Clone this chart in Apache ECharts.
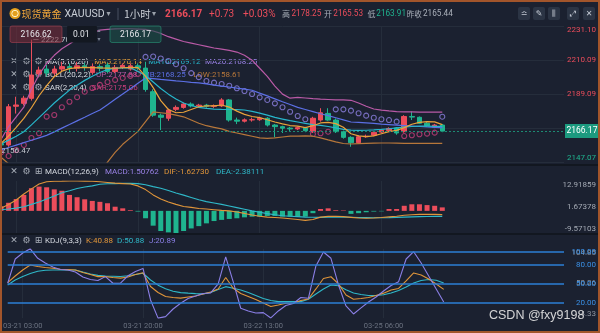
<!DOCTYPE html>
<html><head><meta charset="utf-8">
<script src="https://cdn.jsdelivr.net/npm/echarts@6/dist/echarts.min.js"></script>
<style>html,body{margin:0;padding:0;background:#1b2130;}#c{width:600px;height:333px;}</style>
</head><body><div id="c"></div><script>
// trading sessions (Beijing time), one candle per hour
const sessions = [['03-21',1,4],['03-21',6,23],['03-22',0,4],['03-22',6,23],['03-23',0,4],['03-25',6,14]];
const times = [];
sessions.forEach(([d,a,b]) => { for (let h = a; h <= b; h++) times.push(d + ' ' + String(h).padStart(2,'0') + ':00'); });
const lastIdx = times.length - 1;
for (let h = 15; times.length < 75; h++) times.push('03-25 ' + String(h % 24).padStart(2,'0') + ':00');

// [open, close, low, high]
const candles = [
[2158.3,2157.6,2156.9,2159.2],[2157.6,2181.2,2156.47,2182.9],[2181.5,2182.3,2177.0,2187.4],[2183.3,2186.5,2182.0,2188.0],
[2186.4,2200.8,2185.0,2222.70],[2201.5,2203.9,2199.5,2206.0],[2204.5,2202.0,2200.0,2207.0],[2202.0,2204.5,2200.5,2206.5],
[2204.5,2206.0,2203.0,2209.0],[2206.0,2205.0,2202.5,2208.0],[2205.0,2206.5,2203.0,2209.0],[2206.5,2205.5,2203.5,2208.5],
[2202.3,2206.0,2201.0,2208.0],[2206.0,2205.0,2203.0,2207.5],[2207.0,2203.0,2202.0,2208.5],[2203.0,2205.5,2202.0,2207.0],
[2205.5,2206.8,2204.5,2208.0],[2204.5,2206.5,2203.5,2208.0],[2206.5,2205.1,2204.0,2208.0],[2205.1,2191.9,2190.5,2209.0],
[2190.5,2176.0,2175.0,2192.0],[2176.0,2174.7,2166.8,2177.0],[2174.1,2179.2,2172.5,2180.0],[2179.6,2180.8,2178.5,2182.0],
[2180.8,2182.9,2180.0,2183.8],[2182.9,2181.7,2180.8,2183.9],[2181.7,2182.2,2181.0,2183.0],[2182.2,2181.5,2180.6,2183.0],
[2181.5,2181.8,2180.5,2182.6],[2181.7,2185.4,2181.0,2186.5],[2185.4,2173.0,2172.0,2186.0],[2173.0,2172.3,2170.5,2174.5],
[2172.3,2173.1,2171.5,2174.0],[2173.1,2173.2,2172.0,2174.5],[2173.2,2174.1,2172.5,2175.0],[2174.1,2169.9,2169.0,2174.8],
[2169.9,2168.9,2162.3,2170.5],[2168.9,2168.0,2165.0,2169.5],[2168.0,2167.5,2166.2,2168.8],[2167.5,2168.3,2166.8,2169.0],
[2168.1,2166.4,2165.5,2168.8],[2165.8,2174.1,2165.0,2175.0],[2173.0,2177.5,2172.0,2180.3],[2177.1,2173.0,2172.5,2180.3],
[2173.0,2165.8,2165.0,2174.0],[2165.8,2162.3,2161.5,2166.5],[2162.3,2159.0,2156.5,2163.0],[2159.0,2162.7,2158.5,2163.5],
[2162.7,2163.0,2162.0,2164.0],[2163.6,2165.44,2163.0,2165.8],[2165.53,2166.8,2165.0,2167.5],[2166.5,2167.8,2166.0,2168.5],
[2168.1,2165.0,2163.91,2168.6],[2165.8,2175.2,2165.2,2176.0],[2175.2,2174.8,2173.0,2178.25],[2174.7,2171.0,2170.5,2175.2],
[2171.0,2169.5,2169.0,2171.8],[2168.6,2169.9,2168.0,2170.6],[2169.9,2166.17,2165.5,2170.5]
];
const ma5 = [2158.5,2163.2,2168.5,2174.0,2180.6,2188.0,2194.2,2199.8,2203.2,2204.8,2205.4,2205.5,2205.4,2205.2,2205.1,2205.0,2205.3,2205.5,2205.4,2200.0,2193.0,2185.0,2179.5,2177.5,2177.8,2179.5,2181.2,2181.8,2181.7,2182.3,2181.0,2178.5,2176.5,2175.2,2174.5,2173.2,2171.8,2170.6,2169.6,2169.2,2168.3,2169.5,2171.2,2171.6,2170.8,2168.5,2164.5,2163.2,2162.8,2163.2,2164.5,2165.8,2166.6,2168.3,2170.4,2171.6,2172.0,2171.9,2170.14];
const ma10 = [2158.2,2160.6,2163.0,2165.8,2170.0,2174.5,2179.0,2183.5,2187.5,2191.5,2194.5,2197.5,2200.0,2202.4,2204.2,2205.0,2205.2,2205.4,2203.0,2200.5,2196.5,2192.5,2189.0,2186.0,2183.5,2182.0,2180.8,2180.2,2179.8,2179.6,2179.5,2179.4,2179.2,2178.4,2177.3,2176.0,2174.6,2173.6,2172.6,2171.8,2170.9,2170.2,2169.7,2169.0,2168.2,2167.2,2166.8,2166.6,2166.7,2166.9,2167.2,2167.6,2168.1,2168.6,2169.0,2169.2,2169.2,2169.1,2169.12];
const ma20 = [2154.5,2156.0,2157.5,2159.0,2160.5,2162.0,2163.5,2165.7,2168.0,2170.2,2172.5,2174.7,2177.0,2179.2,2182.5,2185.8,2189.1,2192.4,2195.7,2199.0,2198.6,2198.1,2197.7,2197.2,2196.8,2196.3,2195.9,2195.3,2194.6,2194.0,2193.4,2192.7,2192.1,2191.4,2189.6,2187.9,2186.1,2184.3,2182.6,2180.8,2179.5,2178.2,2176.9,2175.7,2174.4,2173.1,2171.8,2171.5,2171.2,2170.9,2170.5,2170.2,2169.9,2169.6,2169.3,2169.0,2168.7,2168.5,2168.25];
const bollUp = [2161,2169,2175,2181,2192,2201,2208,2213,2217,2220,2223,2225,2227,2228.5,2229,2229.3,2229.4,2229.4,2229.2,2229,2228,2226.5,2224.5,2223,2221.5,2220.5,2219.5,2218.5,2217.5,2216.8,2216,2215,2213,2210,2205,2200,2194,2189,2186.5,2187,2186.6,2186.2,2185.9,2185.7,2185.5,2185.4,2185.2,2183.5,2181.5,2179.8,2179.1,2178.6,2178.2,2178.1,2178.0,2177.9,2177.9,2177.9,2177.88];
const bollLow = [2150,2146,2142,2138,2130,2125,2121,2120,2120,2121,2123,2127,2132,2140,2147,2153,2158,2162,2166,2172,2178,2177.5,2177,2176,2175,2173,2171,2169.5,2168.5,2167.5,2166,2165,2164,2163,2162,2161.7,2162,2162.5,2163,2163,2163.2,2163,2162,2160.7,2159.5,2158.5,2158.2,2158.4,2158.6,2158.7,2158.8,2158.8,2158.7,2158.6,2158.6,2158.6,2158.6,2158.6,2158.61];
const sar = [2153,2150.8,2154.5,2157.6,2161.9,2164.8,2175.1,2176.1,2180.9,2184.3,2187.1,2190.5,2192.8,2194.7,2196.5,2197.8,2199.0,2200.3,2201.5,2212.0,2212.3,2211,2209.5,2207.5,2205,2202,2199.5,2197.1,2196.1,2195.3,2194.2,2192.6,2190.9,2189.1,2187.0,2185.4,2183.3,2180.9,2178.1,2175.5,2173.5,2164.4,2164.8,2165.8,2179.6,2179.6,2178.8,2177.2,2175.7,2174.4,2173.5,2173.0,2172.0,2163.1,2163.6,2164.2,2164.6,2165.2,2175.06];

const macd = [2.0,3.5,5.1,6.9,9.8,10.5,10.2,9.3,8.7,6.9,5.9,5.0,4.3,3.9,3.3,1.8,1.1,0.3,-0.3,-3.2,-6.4,-8.7,-9.3,-9.57103,-8.7,-7.6,-6.6,-5.4,-4.4,-3.9,-3.5,-3.2,-2.8,-2.5,-2.5,-2.2,-2.2,-2.5,-2.5,-2.5,-2.5,-1.0,0.8,1.1,0.3,0.2,-1.3,-1.0,-0.6,-0.3,-0.2,0.8,0.8,2.2,2.85,2.85,2.5,2.2,1.50762];
const dif = [1.1,2.76,4.7,7.3,9.5,11.6,12.6,12.8,12.85,12.91859,12.9,12.88,12.8,12.6,12.3,12.0,11.8,11.6,10.8,9.2,6.9,5.1,3.8,2.8,1.9,1.5,1.0,0.8,0.5,0.2,0,-0.5,-1.1,-1.8,-2.3,-2.7,-2.9,-3.1,-3.4,-3.7,-4.1,-3.7,-2.7,-2.4,-2.3,-2.5,-2.8,-3.1,-3.2,-3.1,-2.9,-2.6,-2.3,-1.9,-1.7,-1.5,-1.45,-1.5,-1.6273];
const dea = [0.5,0.8,1.2,1.8,2.8,3.8,5.1,6.4,7.8,8.7,9.7,10.3,10.8,11.5,11.7,11.8,11.9,11.9,11.8,11.3,10.5,9.8,8.8,7.7,6.8,5.8,4.8,4.0,3.4,2.8,2.1,1.4,0.7,0,-0.6,-1.2,-1.7,-2.1,-2.3,-2.5,-2.7,-2.75,-2.8,-2.75,-2.7,-2.7,-2.75,-2.85,-2.9,-2.95,-2.95,-2.9,-2.8,-2.7,-2.6,-2.5,-2.45,-2.4,-2.38111];

const kdjK = [51.5,62,71.5,79.4,77,75.4,74.2,72.6,72.1,71.5,67.6,64.4,61,61,59.7,58.6,60.5,64.4,67.2,45.5,36,29.8,28.2,27.1,29,30.6,33.7,36.9,41.6,59.7,42.7,34.5,29.8,25,19.5,14,16.4,19.1,19.5,23.5,25.8,41.6,58.1,60.8,49.5,32.1,25.4,26.5,28.2,31.3,35,40,42.4,54.2,66.8,63.6,57.3,49.5,40.88];
const kdjD = [47.9,55.7,61.3,66,69.5,71,71.5,71.5,71.5,71.5,68.3,65.2,63,62,61.6,61.1,62.4,64.4,66.3,55.7,47.6,42,38.1,35.8,35,34.3,33.9,35.9,40.6,45.2,42.7,40,36,31.3,26.6,23.5,21.6,21.6,21.6,21.6,25.4,33.7,41.6,47.9,46.6,40.3,35.3,32.9,31.3,31.2,32.4,35.3,39.2,44.7,51,55,56.5,55.3,50.88];
const kdjJ = [50.6,88.8,98.3,104.85,89.9,82.5,76.2,72.3,71.5,68.3,60.5,56.5,55,61,50.6,50.6,62.4,69.1,73.9,24.3,-4.33,-2,10,19,26.6,30.5,34.5,35.3,49.5,92,52.6,11.2,7,3.8,4.3,-4.1,6.9,15.6,18.7,28.2,26.9,77.8,99.8,89.9,47.9,14.8,2.2,11.7,21.1,29,38.4,47.1,53.1,88.8,100.3,82.5,62,41.6,20.89];
const kdjLevels = [100, 80, 50, 20];

const prevClose = 2165.44, dayOpen = 2165.53, dayHigh = 2178.25, dayLow = 2163.91;
const bidPrice = 2166.62, lotSize = 0.01;

const RED = '#ec4d5b', GREEN = '#1fb48f', GRID = '#252d3b';
const C_MA5 = '#e9a23b', C_MA10 = '#27b6cb', C_MA20 = '#9a82e6', C_UP = '#b95aa6', C_MB = '#5b6fe4', C_LOW = '#b7773a';
const C_SAR_UP = '#c83e7c', C_SAR_DN = '#8c7fe0';
const C_K = '#e0953a', C_D = '#2fb8c8', C_J = '#8b7fe6', C_LEVEL = '#2c7fd6';
const NUM = 'Roboto, "Noto Sans", sans-serif';
const CJK = '"Noto Sans CJK SC", "Noto Sans", sans-serif';

const last = candles.length - 1;
const lastClose = candles[last][1];
const fmt = (v, d) => Number(v).toFixed(d);
const hiIdx = candles.reduce((b, c, i) => c[3] > candles[b][3] ? i : b, 0);
const loIdx = candles.reduce((b, c, i) => c[2] < candles[b][2] ? i : b, 0);

const chart = echarts.init(document.getElementById('c'), null, {renderer: 'canvas'});
const showTime = (i) => i <= lastIdx && i % 16 === 2;
const xBase = (gi, showLabel) => ({
  type: 'category', gridIndex: gi, data: times, boundaryGap: false,
  axisLine: {show: false}, axisTick: {show: false},
  axisLabel: {show: showLabel, interval: showTime, color: '#6b7280', fontSize: 7.5, fontFamily: NUM, margin: 4},
  splitLine: {show: true, interval: showTime, lineStyle: {color: GRID, width: 1}}
});

const legendRow = (y, icons, parts) => {
  const els = [];
  els.push({type: 'text', x: 14, y: y, style: {text: '✕', fill: '#a8aeb8', font: '9px "DejaVu Sans"', align: 'center', verticalAlign: 'middle'}});
  icons.forEach((g, k) => els.push({type: 'text', x: [26.5, 38.5][k], y: y, style: {text: g, fill: '#a8aeb8', font: '9px "DejaVu Sans"', align: 'center', verticalAlign: 'middle'}}));
  parts.forEach(p => els.push({type: 'text', x: p[0], y: y, style: {text: p[1], fill: p[2], font: '8px ' + NUM, verticalAlign: 'middle'}}));
  return els;
};

const hdr = (x, text, fill, font) => ({type: 'text', x: x, y: 14, style: {text: text, fill: fill, font: font, verticalAlign: 'middle'}});
const iconBox = (x, glyph) => ([
  {type: 'rect', shape: {x: x, y: 7, width: 12, height: 13, r: 2}, style: {fill: '#2b3444'}},
  {type: 'text', x: x + 6, y: 13.5, style: {text: glyph, fill: '#c4cad4', font: '8px "DejaVu Sans"', align: 'center', verticalAlign: 'middle'}}
]);

const graphics = [].concat(
  [
    {type: 'rect', shape: {x: 0, y: 164, width: 600, height: 2}, style: {fill: '#121720'}, z: 5},
    {type: 'rect', shape: {x: 0, y: 233, width: 600, height: 2}, style: {fill: '#121720'}, z: 5},
    {type: 'circle', shape: {cx: 15, cy: 13.5, r: 5.5}, style: {fill: '#e3a01e'}},
    {type: 'circle', shape: {cx: 15, cy: 13.5, r: 3.2}, style: {fill: 'none', stroke: '#fff3c8', lineWidth: 1}},
    hdr(21.5, '现货黄金', '#f0a63a', '10px ' + CJK),
    hdr(64.5, 'XAUUSD', '#c9ced6', '10.5px ' + NUM),
    hdr(106.5, '▾', '#9aa0aa', '8px "DejaVu Sans"'),
    {type: 'line', shape: {x1: 118, y1: 8, x2: 118, y2: 20}, style: {stroke: '#485060', lineWidth: 1}},
    hdr(124, '1小时', '#c9ced6', '10.5px ' + CJK),
    hdr(152, '▾', '#9aa0aa', '8px "DejaVu Sans"'),
    hdr(165, fmt(lastClose, 2), RED, 'bold 10px ' + NUM),
    hdr(209, '+' + fmt(lastClose - prevClose, 2), RED, '10px ' + NUM),
    hdr(243, '+' + fmt((lastClose - prevClose) / prevClose * 100, 2) + '%', RED, '10px ' + NUM),
    hdr(282, '高', '#aab0ba', '8px ' + CJK),
    hdr(291.5, fmt(dayHigh, 2), RED, '8.2px ' + NUM),
    hdr(324, '开', '#aab0ba', '8px ' + CJK),
    hdr(333.3, fmt(dayOpen, 2), RED, '8.2px ' + NUM),
    hdr(367.5, '低', '#aab0ba', '8px ' + CJK),
    hdr(376.3, fmt(dayLow, 2), GREEN, '8.2px ' + NUM),
    hdr(406.8, '昨收', '#aab0ba', '7.5px ' + CJK),
    hdr(423, fmt(prevClose, 2), '#aab0ba', '8.2px ' + NUM)
  ],
  iconBox(518, '≏'), iconBox(533, '✎'), iconBox(548, '⫼'), iconBox(567, '⤢'), iconBox(583, '✕'),
  [
    {type: 'rect', shape: {x: 10, y: 26, width: 52, height: 16.5, r: 2}, style: {fill: 'rgba(125,45,58,0.55)', stroke: 'rgba(175,70,85,0.55)', lineWidth: 1}, z: 10},
    {type: 'text', x: 36, y: 34.5, style: {text: fmt(bidPrice, 2), fill: '#e6e8ec', font: '8.5px ' + NUM, align: 'center', verticalAlign: 'middle'}, z: 11},
    {type: 'rect', shape: {x: 67, y: 26, width: 30, height: 16.5, r: 1}, style: {fill: '#131821'}, z: 10},
    {type: 'text', x: 73, y: 34.5, style: {text: fmt(lotSize, 2), fill: '#e6e8ec', font: '8.5px ' + NUM, verticalAlign: 'middle'}, z: 11},
    {type: 'text', x: 99, y: 30.5, style: {text: '▴', fill: '#7d8594', font: '6px "DejaVu Sans"', align: 'center', verticalAlign: 'middle'}, z: 11},
    {type: 'text', x: 99, y: 39, style: {text: '▾', fill: '#7d8594', font: '6px "DejaVu Sans"', align: 'center', verticalAlign: 'middle'}, z: 11},
    {type: 'rect', shape: {x: 110, y: 26, width: 51, height: 16.5, r: 2}, style: {fill: 'rgba(28,78,72,0.6)', stroke: 'rgba(40,150,120,0.6)', lineWidth: 1}, z: 10},
    {type: 'text', x: 135.5, y: 34.5, style: {text: fmt(lastClose, 2), fill: '#e6e8ec', font: '8.5px ' + NUM, align: 'center', verticalAlign: 'middle'}, z: 11}
  ],
  legendRow(61.7, ['⚙', '⚙'], [[45, 'MA(5,10,20)', '#d5d9e0'], [94.3, 'MA5:' + fmt(ma5[last], 2), C_MA5], [148.3, 'MA10:' + fmt(ma10[last], 2), C_MA10], [205, 'MA20:' + fmt(ma20[last], 2), C_MA20]]),
  legendRow(74.5, ['⚙', '⚙'], [[45, 'BOLL(20,2,2)', '#d5d9e0'], [96, 'UP:' + fmt(bollUp[last], 2), C_UP], [142.7, 'MB:' + fmt(ma20[last], 2), C_MB], [193.3, 'LOW:' + fmt(bollLow[last], 2), C_LOW]]),
  legendRow(88, ['⚙', '⚙'], [[45, 'SAR(2,20,4)', '#d5d9e0'], [91.7, 'SAR:' + fmt(sar[last], 2), C_SAR_UP]]),
  legendRow(171.7, ['⚙', '⊞'], [[45, 'MACD(12,26,9)', '#d5d9e0'], [105, 'MACD:' + fmt(macd[last], 5), C_MA20], [164, 'DIF:' + fmt(dif[last], 5), C_K], [216, 'DEA:' + fmt(dea[last], 5), C_D]]),
  legendRow(241, ['⚙', '⊞'], [[45, 'KDJ(9,3,3)', '#d5d9e0'], [86, 'K:' + fmt(kdjK[last], 2), C_K], [117, 'D:' + fmt(kdjD[last], 2), C_D], [149, 'J:' + fmt(kdjJ[last], 2), C_J]]),
  [
    {type: 'text', x: 489, y: 316, style: {text: 'CSDN @fxy9198', fill: 'rgba(226,226,226,0.92)', font: '12.5px "Liberation Sans", sans-serif', verticalAlign: 'middle'}, z: 20},
    {type: 'rect', shape: {x: 1, y: 1, width: 598, height: 331}, style: {fill: 'none', stroke: '#a2552b', lineWidth: 2}, z: 30}
  ]
);

const option = {
  animation: false,
  backgroundColor: '#1b2130',
  grid: [
    {left: 1, right: 36, top: 26, height: 136},
    {left: 1, right: 36, top: 181, height: 52},
    {left: 1, right: 36, top: 248.8, height: 69.3}
  ],
  xAxis: [xBase(0, false), xBase(1, false), xBase(2, true)],
  yAxis: [
    {type: 'value', gridIndex: 0, position: 'right', min: 2147.07, max: 2231.10, interval: 21.0076,
     axisLine: {show: false}, axisTick: {show: false}, splitLine: {lineStyle: {color: GRID}},
     axisLabel: {inside: false, margin: 32, align: 'right', fontSize: 8, fontFamily: NUM,
       verticalAlignMinLabel: 'bottom', verticalAlignMaxLabel: 'top',
       formatter: v => fmt(v, 2), color: v => (v >= prevClose ? RED : GREEN)}},
    {type: 'value', gridIndex: 1, position: 'right', min: -9.57103, max: 12.91859, interval: 11.24481,
     axisLine: {show: false}, axisTick: {show: false}, splitLine: {show: false},
     axisLabel: {margin: 32, align: 'right', fontSize: 8, fontFamily: NUM, color: '#a4aab4',
       verticalAlignMinLabel: 'bottom', verticalAlignMaxLabel: 'top', formatter: v => fmt(v, 5)}},
    {type: 'value', gridIndex: 2, position: 'right', min: -4.33, max: 104.85, interval: 54.59,
     axisLine: {show: false}, axisTick: {show: false}, splitLine: {show: false},
     axisLabel: {margin: 32, align: 'right', fontSize: 8, fontFamily: NUM, color: '#8d939d',
       verticalAlignMinLabel: 'bottom', verticalAlignMaxLabel: 'top', formatter: v => fmt(v, 2)}}
  ],
  series: [
    {type: 'candlestick', xAxisIndex: 0, yAxisIndex: 0, barWidth: 5, clip: true,
     data: candles,
     itemStyle: {color: RED, color0: GREEN, borderColor: RED, borderColor0: GREEN, borderWidth: 1},
     markLine: {silent: true, symbol: ['none', 'none'], animation: false,
       lineStyle: {type: [2, 2], color: '#1d8b73', width: 1},
       label: {position: 'end', distance: 1, formatter: () => fmt(lastClose, 2), color: '#ffffff', backgroundColor: '#1c9a7f',
         padding: [3, 1.5, 2, 1.5], fontSize: 8.5, fontFamily: NUM},
       data: [{yAxis: lastClose}]},
     markPoint: {silent: true, symbol: 'circle', symbolSize: 0, animation: false,
       label: {show: true, position: 'inside', color: '#c3c8d0', fontSize: 8, fontFamily: NUM},
       data: [
         {coord: [hiIdx, candles[hiIdx][3]], value: candles[hiIdx][3], label: {formatter: '— ' + fmt(candles[hiIdx][3], 2), offset: [20, 0]}},
         {coord: [loIdx, candles[loIdx][2]], value: candles[loIdx][2], label: {formatter: fmt(candles[loIdx][2], 2), offset: [7, 4]}}
       ]}},
    {type: 'line', xAxisIndex: 0, yAxisIndex: 0, data: bollLow, symbol: 'none', lineStyle: {color: C_LOW, width: 1.2}},
    {type: 'line', xAxisIndex: 0, yAxisIndex: 0, data: bollUp, symbol: 'none', lineStyle: {color: C_UP, width: 1.2}},
    {type: 'line', xAxisIndex: 0, yAxisIndex: 0, data: ma20, symbol: 'none', lineStyle: {color: C_MB, width: 1.2}},
    {type: 'line', xAxisIndex: 0, yAxisIndex: 0, data: ma10, symbol: 'none', lineStyle: {color: C_MA10, width: 1.2}},
    {type: 'line', xAxisIndex: 0, yAxisIndex: 0, data: ma5, symbol: 'none', lineStyle: {color: C_MA5, width: 1.2}},
    {type: 'scatter', xAxisIndex: 0, yAxisIndex: 0, symbol: 'circle', symbolSize: 5, clip: true,
     data: sar.map((v, i) => ({value: v, itemStyle: {color: 'rgba(0,0,0,0)', borderWidth: 1.1,
       borderColor: v < candles[i][1] ? C_SAR_UP : C_SAR_DN}}))},
    {type: 'bar', xAxisIndex: 1, yAxisIndex: 1, barWidth: 5,
     data: macd.map(v => ({value: v, itemStyle: {color: v >= 0 ? RED : GREEN}}))},
    {type: 'line', xAxisIndex: 1, yAxisIndex: 1, data: dea, symbol: 'none', lineStyle: {color: C_D, width: 1.1}},
    {type: 'line', xAxisIndex: 1, yAxisIndex: 1, data: dif, symbol: 'none', lineStyle: {color: C_K, width: 1.1}},
    {type: 'line', xAxisIndex: 2, yAxisIndex: 2, data: kdjD, symbol: 'none', lineStyle: {color: C_D, width: 1.1},
     markLine: {silent: true, symbol: ['none', 'none'], animation: false,
       lineStyle: {type: 'solid', color: C_LEVEL, width: 1.5},
       label: {position: 'end', distance: 32, align: 'right', color: '#3a90e6', fontSize: 8, fontFamily: NUM, formatter: p => fmt(p.value, 2)},
       data: kdjLevels.map(v => ({yAxis: v}))}},
    {type: 'line', xAxisIndex: 2, yAxisIndex: 2, data: kdjK, symbol: 'none', lineStyle: {color: C_K, width: 1.1}},
    {type: 'line', xAxisIndex: 2, yAxisIndex: 2, data: kdjJ, symbol: 'none', lineStyle: {color: C_J, width: 1.1}}
  ],
  graphic: graphics
};
chart.setOption(option);
</script></body></html>
